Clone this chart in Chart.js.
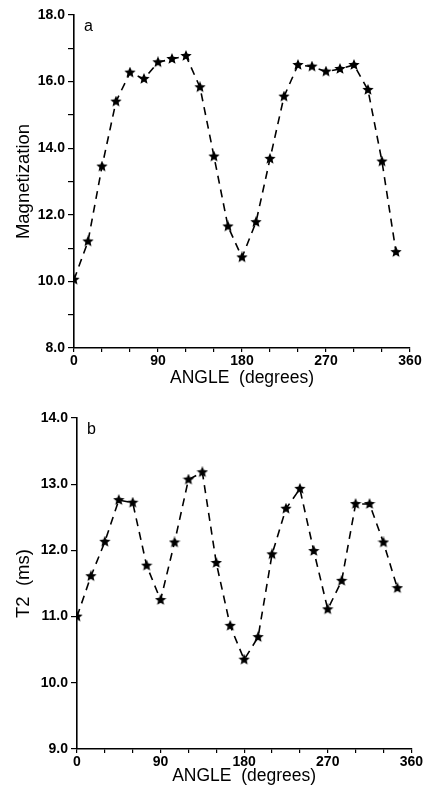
<!DOCTYPE html>
<html>
  <head>
    <style>
      body { margin: 0; background: #fff; }
      .panel { position: absolute; left: 0; width: 424px; }
      #panelA { top: 0; height: 393px; }
      #panelB { top: 393px; height: 394px; }
    </style>
  </head>
  <body>
    <div class="panel" id="panelA"><canvas id="chartA" width="424" height="393"></canvas></div>
    <div class="panel" id="panelB"><canvas id="chartB" width="424" height="394"></canvas></div>

    <script src="https://cdn.jsdelivr.net/npm/chart.js"></script>
    <script>
      // angles in degrees, one reading every 15 deg
      const angles = [0, 15, 30, 45, 60, 75, 90, 105, 120, 135, 150, 165,
                      180, 195, 210, 225, 240, 255, 270, 285, 300, 315, 330, 345];
      const magnetization = [10.05, 11.2, 13.45, 15.4, 16.27, 16.08, 16.58, 16.68, 16.77, 15.83, 13.75, 11.65,
                             10.72, 11.78, 13.68, 15.55, 16.5, 16.45, 16.3, 16.38, 16.5, 15.75, 13.6, 10.88];
      const t2 = [11.0, 11.61, 12.13, 12.76, 12.72, 11.77, 11.25, 12.12, 13.07, 13.18, 11.81, 10.86,
                  10.35, 10.69, 11.94, 12.63, 12.93, 11.99, 11.11, 11.54, 12.7, 12.7, 12.12, 11.43];
      const xTickLabels = [0, 90, 180, 270, 360];
      const magTickLabels = [8, 10, 12, 14, 16, 18];
      const t2TickLabels = [9, 10, 11, 12, 13, 14];

      const FONT = '"Liberation Sans", Arial, sans-serif';

      // filled five point star for the markers
      function makeStar(size) {
        const c = document.createElement('canvas');
        c.width = size; c.height = size;
        const ctx = c.getContext('2d');
        const cx = size / 2, cy = size / 2, ro = size / 2, ri = ro * 0.45;
        ctx.beginPath();
        for (let i = 0; i < 10; i++) {
          const r = i % 2 ? ri : ro;
          const a = -Math.PI / 2 + i * Math.PI / 5;
          ctx.lineTo(cx + r * Math.cos(a), cy + r * Math.sin(a));
        }
        ctx.closePath();
        ctx.fillStyle = '#000';
        ctx.fill();
        return c;
      }
      const star = makeStar(12);

      const panelLetter = {
        id: 'panelLetter',
        afterDraw(chart, args, opts) {
          const ctx = chart.ctx;
          ctx.save();
          ctx.font = '16px ' + FONT;
          ctx.fillStyle = '#000';
          ctx.textBaseline = 'middle';
          ctx.fillText(opts.text, chart.chartArea.left + 10, chart.chartArea.top + 12);
          ctx.restore();
        }
      };

      function makeChart(id, values, yMin, yMax, yLabels, yTitle, letter, lay) {
        const points = angles.map((a, i) => ({ x: a, y: values[i] }));
        return new Chart(document.getElementById(id), {
          type: 'line',
          data: {
            datasets: [{
              data: points,
              borderColor: '#000',
              borderWidth: 1.6,
              borderDash: [8, 6],
              pointStyle: star,
              tension: 0,
            }],
          },
          options: {
            responsive: false,
            animation: false,
            layout: { padding: { top: lay.top, right: lay.right, bottom: 0, left: 0 } },
            plugins: {
              legend: { display: false },
              tooltip: { enabled: false },
              panelLetter: { text: letter },
            },
            scales: {
              x: {
                type: 'linear',
                min: 0,
                max: 360,
                border: { color: '#000', width: 1.6 },
                grid: { drawOnChartArea: false, color: '#000', tickLength: 4, lineWidth: 1.2 },
                ticks: {
                  stepSize: 30,
                  autoSkip: false,
                  maxRotation: 0,
                  padding: 1,
                  color: '#000',
                  font: { family: FONT, size: 14, weight: 'bold' },
                  callback: (v) => (xTickLabels.includes(v) ? String(v) : ''),
                },
                title: {
                  display: true,
                  text: 'ANGLE  (degrees)',
                  color: '#000',
                  padding: { top: 0, bottom: lay.titleBottom },
                  font: { family: FONT, size: 17.5 },
                },
                afterFit: (scale) => { scale.height = lay.xAxisHeight; },
              },
              y: {
                min: yMin,
                max: yMax,
                border: { color: '#000', width: 1.6 },
                grid: { drawOnChartArea: false, color: '#000', tickLength: 6, lineWidth: 1.2 },
                ticks: {
                  stepSize: 1,
                  autoSkip: false,
                  padding: 3,
                  color: '#000',
                  font: { family: FONT, size: 14, weight: 'bold' },
                  callback: (v) => (yLabels.includes(v) ? v.toFixed(1) : ''),
                },
                title: {
                  display: true,
                  text: yTitle,
                  color: '#000',
                  padding: { top: 13, bottom: 0 },
                  font: { family: FONT, size: 18.5 },
                },
                afterFit: (scale) => { scale.width = lay.yAxisWidth; },
              },
            },
          },
          plugins: [panelLetter],
        });
      }

      makeChart('chartA', magnetization, 8, 18, magTickLabels, 'Magnetization', 'a',
        { top: 15, right: 14, yAxisWidth: 74, xAxisHeight: 45, titleBottom: 4 });
      makeChart('chartB', t2, 9, 14, t2TickLabels, 'T2  (ms)', 'b',
        { top: 25, right: 11, yAxisWidth: 77, xAxisHeight: 38, titleBottom: 0 });
    </script>
  </body>
</html>
